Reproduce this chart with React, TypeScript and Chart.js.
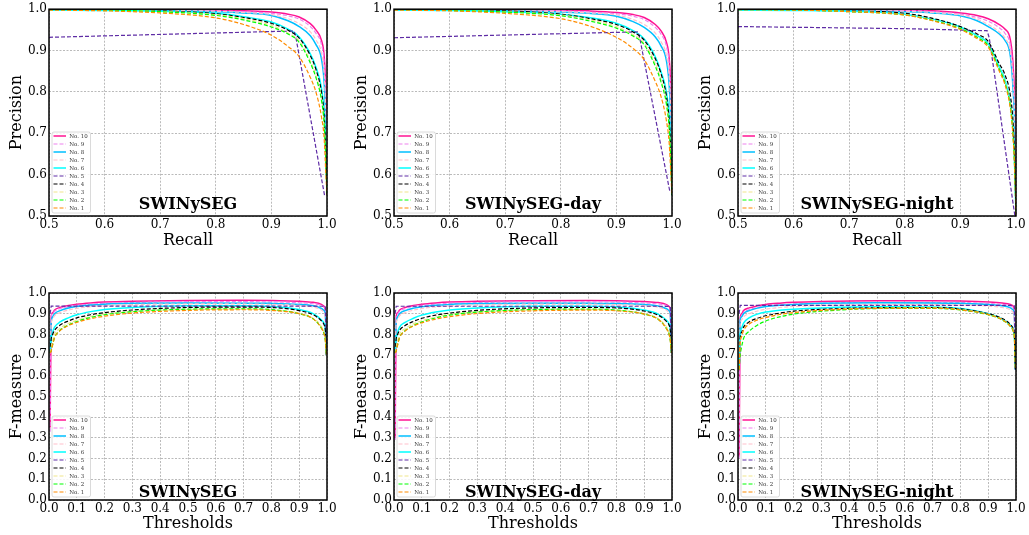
import React, { useEffect, useRef } from 'react';
import { Chart, registerables } from 'chart.js';

Chart.register(...registerables);

const FONT = '"DejaVu Serif", "Liberation Serif", serif';

// Series, in legend order (top to bottom)
const SERIES_LABELS = ['No. 10', 'No. 9', 'No. 8', 'No. 7', 'No. 6', 'No. 5', 'No. 4', 'No. 3', 'No. 2', 'No. 1'];
const SERIES_COLORS = ['#ff1493', '#ee82ee', '#00bfff', '#ffc0cb', '#00ffff', '#5e2ca5', '#000000', '#f0e68c', '#00ff00', '#ff8c00'];
const SERIES_DASHED = [false, true, false, true, false, true, true, true, true, true];

// ---------- Precision-Recall ----------
const PR_RECALL = [0.5, 0.6, 0.7, 0.8, 0.85, 0.9, 0.93, 0.95, 0.97, 0.98, 0.99, 0.995, 0.998, 1.0];

// rows: No.10, No.9, No.8, No.7, No.6, No.4, No.3, No.2, No.1 (No.5 separate)
const PR_SWIN = [
  [1.0, 1.0, 0.999, 0.998, 0.996, 0.993, 0.988, 0.981, 0.965, 0.95, 0.925, 0.885, 0.8, 0.66],
  [1.0, 0.999, 0.998, 0.996, 0.994, 0.99, 0.984, 0.976, 0.958, 0.942, 0.915, 0.87, 0.78, 0.62],
  [0.998, 0.998, 0.997, 0.994, 0.991, 0.985, 0.972, 0.958, 0.936, 0.915, 0.88, 0.82, 0.72, 0.57],
  [0.999, 0.998, 0.997, 0.995, 0.992, 0.987, 0.977, 0.965, 0.945, 0.926, 0.893, 0.84, 0.74, 0.58],
  [0.998, 0.997, 0.995, 0.99, 0.982, 0.969, 0.952, 0.933, 0.892, 0.86, 0.81, 0.75, 0.66, 0.55],
  [1.0, 0.999, 0.996, 0.989, 0.98, 0.966, 0.949, 0.93, 0.888, 0.855, 0.8, 0.74, 0.65, 0.55],
  [0.999, 0.998, 0.995, 0.987, 0.977, 0.961, 0.942, 0.923, 0.875, 0.84, 0.785, 0.72, 0.63, 0.55],
  [0.999, 0.998, 0.994, 0.985, 0.974, 0.957, 0.94, 0.92, 0.87, 0.835, 0.78, 0.72, 0.63, 0.55],
  [0.998, 0.996, 0.991, 0.979, 0.963, 0.937, 0.91, 0.885, 0.835, 0.8, 0.74, 0.685, 0.6, 0.55],
];
const PR_SWIN_NO5_RECALL = [0.5, 0.9, 0.941, 0.944, 0.996];
const PR_SWIN_NO5_PREC = [0.932, 0.946, 0.947, 0.932, 0.547];

const PR_DAY = [
  [1.0, 1.0, 0.999, 0.998, 0.996, 0.992, 0.987, 0.98, 0.963, 0.948, 0.92, 0.88, 0.8, 0.65],
  [1.0, 0.999, 0.998, 0.996, 0.993, 0.989, 0.983, 0.975, 0.956, 0.94, 0.91, 0.865, 0.78, 0.62],
  [0.998, 0.998, 0.996, 0.993, 0.99, 0.983, 0.97, 0.956, 0.933, 0.912, 0.875, 0.815, 0.72, 0.57],
  [0.999, 0.998, 0.997, 0.994, 0.991, 0.986, 0.975, 0.963, 0.942, 0.922, 0.888, 0.835, 0.74, 0.58],
  [0.998, 0.997, 0.994, 0.988, 0.98, 0.966, 0.948, 0.928, 0.885, 0.85, 0.8, 0.74, 0.66, 0.55],
  [1.0, 0.999, 0.996, 0.988, 0.978, 0.963, 0.945, 0.925, 0.88, 0.845, 0.79, 0.73, 0.65, 0.55],
  [0.999, 0.998, 0.994, 0.986, 0.975, 0.958, 0.938, 0.918, 0.868, 0.83, 0.775, 0.71, 0.63, 0.55],
  [0.999, 0.997, 0.993, 0.984, 0.972, 0.954, 0.935, 0.914, 0.862, 0.825, 0.77, 0.71, 0.63, 0.55],
  [0.998, 0.996, 0.99, 0.977, 0.96, 0.932, 0.905, 0.878, 0.825, 0.79, 0.73, 0.675, 0.6, 0.55],
];
const PR_DAY_NO5_RECALL = [0.5, 0.9, 0.939, 0.942, 0.996];
const PR_DAY_NO5_PREC = [0.931, 0.944, 0.945, 0.93, 0.56];

const PR_NIGHT = [
  [1.0, 1.0, 0.999, 0.998, 0.996, 0.991, 0.985, 0.977, 0.963, 0.952, 0.925, 0.86, 0.75, 0.5],
  [1.0, 0.999, 0.998, 0.997, 0.994, 0.988, 0.98, 0.971, 0.955, 0.942, 0.91, 0.84, 0.72, 0.5],
  [0.998, 0.998, 0.997, 0.994, 0.991, 0.984, 0.972, 0.958, 0.94, 0.925, 0.885, 0.8, 0.7, 0.5],
  [0.999, 0.998, 0.997, 0.995, 0.992, 0.986, 0.976, 0.963, 0.945, 0.93, 0.895, 0.82, 0.71, 0.5],
  [0.998, 0.997, 0.995, 0.988, 0.976, 0.957, 0.936, 0.917, 0.86, 0.83, 0.77, 0.7, 0.6, 0.5],
  [1.0, 0.999, 0.996, 0.99, 0.978, 0.958, 0.94, 0.922, 0.868, 0.842, 0.79, 0.72, 0.62, 0.5],
  [0.999, 0.998, 0.995, 0.987, 0.974, 0.954, 0.933, 0.912, 0.855, 0.825, 0.765, 0.69, 0.6, 0.5],
  [0.999, 0.998, 0.994, 0.986, 0.973, 0.953, 0.932, 0.912, 0.855, 0.823, 0.763, 0.69, 0.6, 0.5],
  [0.999, 0.998, 0.994, 0.986, 0.972, 0.951, 0.929, 0.908, 0.85, 0.818, 0.758, 0.685, 0.6, 0.5],
];
const PR_NIGHT_NO5_RECALL = [0.5, 0.8, 0.948, 0.952, 0.998];
const PR_NIGHT_NO5_PREC = [0.958, 0.953, 0.948, 0.93, 0.5];

// ---------- F-measure vs threshold ----------
const F_THRESH = [0.004, 0.008, 0.013, 0.02, 0.04, 0.07, 0.1, 0.15, 0.2, 0.3, 0.5, 0.7, 0.8, 0.9, 0.95, 0.98, 0.99, 0.994, 0.998];

// rows: No.10 ... No.1 (legend order)
const F_SWIN = [
  [0.35, 0.89, 0.905, 0.918, 0.93, 0.94, 0.946, 0.952, 0.956, 0.96, 0.964, 0.965, 0.964, 0.96, 0.955, 0.945, 0.935, 0.92, 0.7],
  [0.33, 0.885, 0.9, 0.912, 0.925, 0.935, 0.94, 0.946, 0.95, 0.954, 0.958, 0.958, 0.957, 0.953, 0.948, 0.94, 0.93, 0.915, 0.7],
  [0.71, 0.86, 0.885, 0.9, 0.915, 0.928, 0.935, 0.942, 0.946, 0.95, 0.952, 0.951, 0.95, 0.945, 0.938, 0.925, 0.915, 0.9, 0.7],
  [0.71, 0.855, 0.875, 0.89, 0.905, 0.918, 0.926, 0.934, 0.939, 0.944, 0.947, 0.947, 0.945, 0.94, 0.932, 0.918, 0.905, 0.885, 0.7],
  [0.71, 0.78, 0.81, 0.835, 0.86, 0.88, 0.895, 0.91, 0.92, 0.93, 0.938, 0.938, 0.935, 0.92, 0.9, 0.87, 0.85, 0.82, 0.7],
  [0.9, 0.937, 0.937, 0.937, 0.937, 0.937, 0.937, 0.937, 0.937, 0.937, 0.937, 0.937, 0.937, 0.937, 0.937, 0.936, 0.936, 0.935, 0.7],
  [0.71, 0.78, 0.8, 0.82, 0.845, 0.865, 0.88, 0.895, 0.905, 0.918, 0.93, 0.932, 0.93, 0.915, 0.895, 0.865, 0.845, 0.82, 0.7],
  [0.71, 0.74, 0.77, 0.8, 0.83, 0.853, 0.868, 0.886, 0.898, 0.91, 0.92, 0.922, 0.918, 0.902, 0.878, 0.838, 0.808, 0.775, 0.7],
  [0.71, 0.72, 0.75, 0.785, 0.82, 0.845, 0.862, 0.882, 0.895, 0.91, 0.922, 0.924, 0.92, 0.9, 0.875, 0.83, 0.8, 0.77, 0.7],
  [0.71, 0.72, 0.75, 0.785, 0.818, 0.843, 0.858, 0.876, 0.888, 0.903, 0.916, 0.919, 0.916, 0.9, 0.875, 0.83, 0.8, 0.77, 0.7],
];

const F_DAY = [
  [0.3, 0.89, 0.905, 0.918, 0.93, 0.94, 0.946, 0.952, 0.956, 0.96, 0.963, 0.964, 0.963, 0.959, 0.954, 0.944, 0.934, 0.918, 0.71],
  [0.29, 0.885, 0.9, 0.912, 0.925, 0.935, 0.94, 0.946, 0.95, 0.954, 0.957, 0.957, 0.956, 0.952, 0.947, 0.939, 0.929, 0.913, 0.71],
  [0.71, 0.86, 0.885, 0.9, 0.915, 0.927, 0.934, 0.941, 0.945, 0.949, 0.951, 0.95, 0.949, 0.944, 0.937, 0.924, 0.913, 0.898, 0.71],
  [0.71, 0.855, 0.875, 0.89, 0.905, 0.917, 0.925, 0.933, 0.938, 0.943, 0.946, 0.946, 0.944, 0.939, 0.931, 0.917, 0.904, 0.884, 0.71],
  [0.71, 0.78, 0.81, 0.835, 0.858, 0.878, 0.893, 0.908, 0.918, 0.928, 0.936, 0.936, 0.933, 0.918, 0.898, 0.868, 0.848, 0.82, 0.71],
  [0.9, 0.936, 0.936, 0.936, 0.936, 0.936, 0.936, 0.936, 0.936, 0.936, 0.936, 0.936, 0.936, 0.936, 0.936, 0.935, 0.935, 0.934, 0.71],
  [0.71, 0.78, 0.8, 0.82, 0.843, 0.863, 0.878, 0.893, 0.903, 0.916, 0.928, 0.93, 0.928, 0.913, 0.893, 0.863, 0.843, 0.818, 0.71],
  [0.71, 0.74, 0.77, 0.8, 0.828, 0.851, 0.866, 0.884, 0.896, 0.908, 0.918, 0.92, 0.916, 0.9, 0.876, 0.836, 0.806, 0.773, 0.71],
  [0.71, 0.72, 0.75, 0.785, 0.818, 0.843, 0.86, 0.88, 0.893, 0.908, 0.92, 0.922, 0.918, 0.898, 0.873, 0.828, 0.798, 0.768, 0.71],
  [0.71, 0.72, 0.75, 0.785, 0.816, 0.841, 0.856, 0.874, 0.886, 0.901, 0.914, 0.917, 0.914, 0.898, 0.873, 0.828, 0.798, 0.768, 0.71],
];

const F_NIGHT = [
  [0.21, 0.88, 0.9, 0.915, 0.928, 0.938, 0.945, 0.951, 0.955, 0.959, 0.962, 0.962, 0.961, 0.957, 0.952, 0.945, 0.937, 0.92, 0.63],
  [0.2, 0.87, 0.89, 0.905, 0.92, 0.93, 0.937, 0.943, 0.947, 0.951, 0.955, 0.955, 0.954, 0.95, 0.945, 0.937, 0.928, 0.91, 0.63],
  [0.63, 0.87, 0.885, 0.9, 0.915, 0.927, 0.935, 0.941, 0.945, 0.95, 0.953, 0.952, 0.95, 0.945, 0.938, 0.928, 0.918, 0.9, 0.63],
  [0.63, 0.85, 0.87, 0.885, 0.9, 0.913, 0.922, 0.93, 0.935, 0.94, 0.944, 0.944, 0.942, 0.937, 0.93, 0.918, 0.906, 0.885, 0.63],
  [0.63, 0.8, 0.83, 0.855, 0.88, 0.898, 0.908, 0.917, 0.922, 0.928, 0.933, 0.932, 0.925, 0.9, 0.875, 0.845, 0.825, 0.8, 0.63],
  [0.9, 0.94, 0.94, 0.94, 0.94, 0.94, 0.94, 0.94, 0.94, 0.94, 0.94, 0.94, 0.94, 0.94, 0.94, 0.94, 0.939, 0.938, 0.63],
  [0.63, 0.79, 0.81, 0.835, 0.86, 0.878, 0.89, 0.903, 0.912, 0.921, 0.929, 0.93, 0.923, 0.9, 0.877, 0.848, 0.828, 0.8, 0.63],
  [0.63, 0.76, 0.79, 0.82, 0.85, 0.87, 0.883, 0.897, 0.906, 0.917, 0.927, 0.928, 0.92, 0.897, 0.872, 0.84, 0.82, 0.79, 0.63],
  [0.63, 0.7, 0.74, 0.78, 0.815, 0.845, 0.865, 0.885, 0.898, 0.912, 0.925, 0.926, 0.918, 0.895, 0.87, 0.838, 0.815, 0.785, 0.63],
  [0.63, 0.76, 0.79, 0.82, 0.85, 0.87, 0.882, 0.896, 0.905, 0.916, 0.926, 0.927, 0.919, 0.896, 0.871, 0.839, 0.817, 0.787, 0.63],
];

const PANEL_TITLES = ['SWINySEG', 'SWINySEG-day', 'SWINySEG-night'];
const PR_ROWS = [PR_SWIN, PR_DAY, PR_NIGHT];
const PR_NO5_X = [PR_SWIN_NO5_RECALL, PR_DAY_NO5_RECALL, PR_NIGHT_NO5_RECALL];
const PR_NO5_Y = [PR_SWIN_NO5_PREC, PR_DAY_NO5_PREC, PR_NIGHT_NO5_PREC];
const F_ROWS = [F_SWIN, F_DAY, F_NIGHT];

// layout (pixels)
const CHART_LEFTS = [49, 394, 738];
const PLOT_W = 278;
const PLOT_H = 207;
const Y_AXIS_W = 49;
const RIGHT_PAD = 12;

function makeDs(label: string, i: number, data: any[]) {
  const dashed = SERIES_DASHED[i];
  return {
    label,
    data,
    borderColor: SERIES_COLORS[i],
    backgroundColor: SERIES_COLORS[i],
    borderWidth: dashed ? 1.2 : 1.5,
    borderDash: dashed ? [4, 2] : [],
    pointRadius: 0,
    pointHoverRadius: 0,
    fill: false,
    tension: 0,
    cubicInterpolationMode: i === 5 ? 'default' : 'monotone',
    order: 9 - i,
  };
}

function buildPRDatasets(col: number) {
  const rows = PR_ROWS[col];
  let r = 0;
  return SERIES_LABELS.map((label, i) => {
    let pts;
    if (i === 5) {
      pts = PR_NO5_X[col].map((x, k) => ({ x, y: PR_NO5_Y[col][k] }));
    } else {
      const row = rows[r++];
      pts = PR_RECALL.map((x, k) => ({ x, y: row[k] }));
    }
    return makeDs(label, i, pts);
  });
}

function buildFDatasets(col: number) {
  const rows = F_ROWS[col];
  return SERIES_LABELS.map((label, i) => makeDs(label, i, F_THRESH.map((x, k) => ({ x, y: rows[i][k] }))));
}

function makeDecor(title: string, titleOffset: number) {
  return {
    id: 'decor',
    afterDatasetsDraw(chart: any) {
      const { ctx, chartArea: a } = chart;
      ctx.save();
      ctx.setLineDash([]);
      ctx.strokeStyle = '#000';
      ctx.lineWidth = 1.5;
      ctx.strokeRect(a.left, a.top, a.right - a.left, a.bottom - a.top);

      ctx.font = `bold 16px ${FONT}`;
      ctx.fillStyle = '#000';
      ctx.textAlign = 'center';
      ctx.textBaseline = 'alphabetic';
      ctx.fillText(title, (a.left + a.right) / 2, a.bottom - titleOffset);

      // legend
      const bw = 38.5, bh = 81;
      const bx = a.left + 3, by = a.bottom - 3 - bh;
      ctx.beginPath();
      if (ctx.roundRect) ctx.roundRect(bx, by, bw, bh, 2);
      else ctx.rect(bx, by, bw, bh);
      ctx.fillStyle = 'rgba(255,255,255,0.85)';
      ctx.fill();
      ctx.strokeStyle = '#d0d0d0';
      ctx.lineWidth = 0.8;
      ctx.stroke();
      const sets = chart.data.datasets;
      sets.forEach((ds: any, i: number) => {
        const y = by + 4 + i * 8;
        ctx.beginPath();
        ctx.setLineDash(ds.borderDash || []);
        ctx.strokeStyle = ds.borderColor;
        ctx.lineWidth = ds.borderWidth;
        ctx.moveTo(bx + 1.5, y);
        ctx.lineTo(bx + 14, y);
        ctx.stroke();
        ctx.setLineDash([]);
        ctx.fillStyle = '#333';
        ctx.font = `5.5px ${FONT}`;
        ctx.textAlign = 'left';
        ctx.textBaseline = 'middle';
        ctx.fillText(ds.label, bx + 17.3, y + 0.3);
      });
      ctx.restore();
    },
  };
}

function axis(min: number, max: number, title: string, isX: boolean, row: number) {
  return {
    type: 'linear',
    min,
    max,
    ticks: {
      stepSize: 0.1,
      autoSkip: false,
      maxRotation: 0,
      minRotation: 0,
      padding: 2,
      color: '#000',
      font: { family: FONT, size: 12 },
      callback: (v: any) => Number(v).toFixed(1),
    },
    grid: { color: '#a8a8a8', lineWidth: 0.8, drawTicks: false },
    border: { display: false, dash: [2, 1.5] },
    title: {
      display: true,
      text: title,
      color: '#000',
      font: { family: FONT, size: 16 },
      padding: isX ? { top: 0, bottom: row === 0 ? 6 : 2 } : { top: 7, bottom: 0 },
    },
    afterFit: (s: any) => {
      if (isX) s.height = row === 0 ? 40 : 35;
      else s.width = Y_AXIS_W;
    },
  };
}

function Panel({ row, col }: { row: number; col: number }) {
  const ref = useRef<HTMLCanvasElement>(null);
  const padTop = row === 0 ? 9 : 13;
  const xAxisH = row === 0 ? 40 : 35;
  const width = Y_AXIS_W + PLOT_W + RIGHT_PAD;
  const height = padTop + PLOT_H + xAxisH;
  const left = CHART_LEFTS[col] - Y_AXIS_W;
  const top = row === 0 ? 0 : 280;

  useEffect(() => {
    const isPR = row === 0;
    const chart = new Chart(ref.current as HTMLCanvasElement, {
      type: 'line',
      data: { datasets: (isPR ? buildPRDatasets(col) : buildFDatasets(col)) as any },
      options: {
        animation: false,
        responsive: false,
        maintainAspectRatio: false,
        devicePixelRatio: 1,
        events: [],
        layout: { padding: { left: 0, top: padTop, right: RIGHT_PAD, bottom: 0 } },
        plugins: { legend: { display: false }, tooltip: { enabled: false } },
        scales: {
          x: axis(isPR ? 0.5 : 0, 1, isPR ? 'Recall' : 'Thresholds', true, row) as any,
          y: axis(isPR ? 0.5 : 0, 1, isPR ? 'Precision' : 'F-measure', false, row) as any,
        },
      } as any,
      plugins: [makeDecor(PANEL_TITLES[col], row === 0 ? 7.5 : 3.5)],
    });
    return () => chart.destroy();
  }, []);

  return (
    <canvas
      ref={ref}
      width={width}
      height={height}
      style={{ position: 'absolute', left, top, width, height }}
    />
  );
}

export default function App() {
  return (
    <div style={{ position: 'absolute', left: 0, top: 0, width: 1029, height: 535, overflow: 'hidden', background: '#fff' }}>
      {[0, 1].map((r) => [0, 1, 2].map((c) => <Panel key={`${r}-${c}`} row={r} col={c} />))}
    </div>
  );
}
